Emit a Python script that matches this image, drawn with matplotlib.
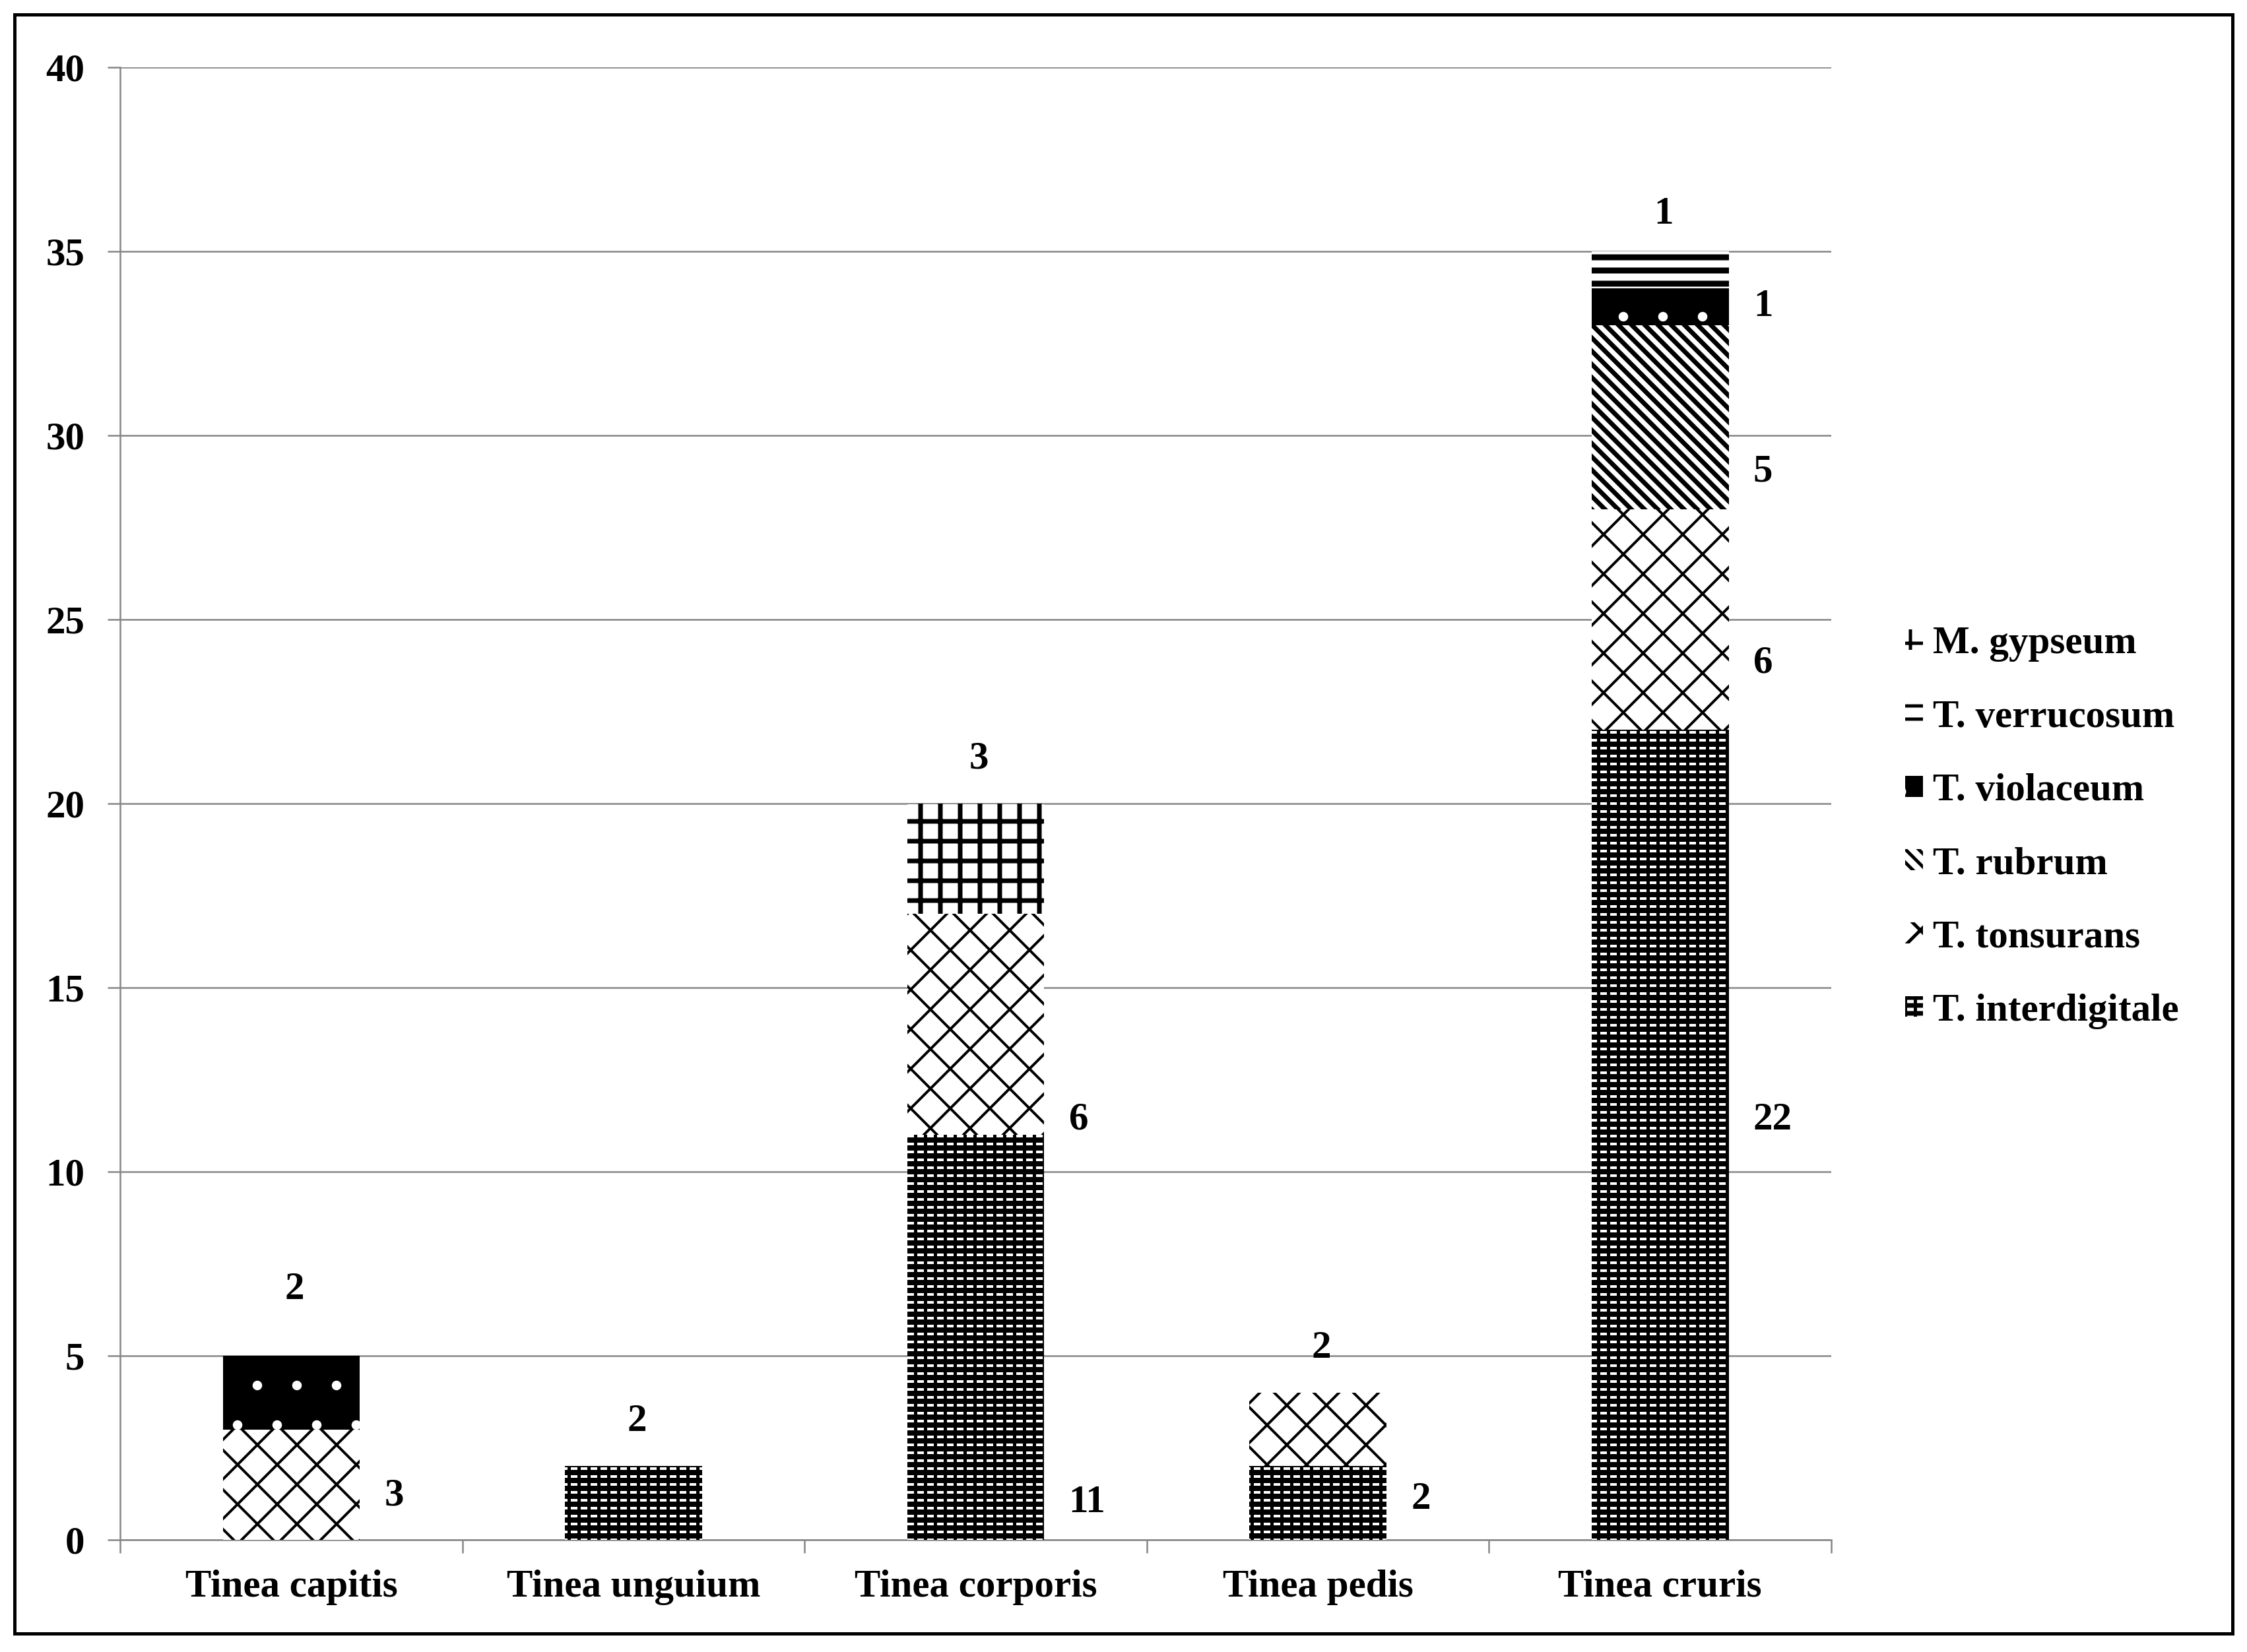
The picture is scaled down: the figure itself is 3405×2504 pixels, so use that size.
import matplotlib
matplotlib.use('Agg')
import matplotlib.pyplot as plt
import numpy as np
from matplotlib.patches import Rectangle, Patch

categories = ['Tinea capitis', 'Tinea unguium', 'Tinea corporis', 'Tinea pedis', 'Tinea cruris']
species = ['T. interdigitale', 'T. tonsurans', 'T. rubrum', 'T. violaceum', 'T. verrucosum', 'M. gypseum']
interdigitale = [0, 2, 11, 2, 22]
tonsurans = [3, 0, 6, 2, 6]
rubrum = [0, 0, 0, 0, 5]
violaceum = [2, 0, 0, 0, 1]
verrucosum = [0, 0, 0, 0, 1]
gypseum = [0, 0, 3, 0, 0]
counts = [interdigitale, tonsurans, rubrum, violaceum, verrucosum, gypseum]

# y position (data units) of each value label, as it was placed by hand in the original
label_y = {
    (0, 1): 1.2, (0, 3): 6.8,
    (1, 0): 3.2,
    (2, 0): 1.0, (2, 1): 11.4, (2, 5): 21.2,
    (3, 0): 1.1, (3, 1): 5.2,
    (4, 0): 11.4, (4, 1): 23.8, (4, 2): 29.0, (4, 3): 33.5, (4, 4): 36.0,
}

# fill patterns, one per species (same order as species)
styles = [
    dict(face='black', hatch='-----', hcolor='white', hlw=0.8),
    dict(face='white', hatch='xx', hcolor='black', hlw=0.8),
    dict(face='white', hatch='\\' * 6, hcolor='black', hlw=1.4),
    dict(face='black', hatch='.', hcolor='white', hlw=0.5),
    dict(face='white', hatch='---', hcolor='black', hlw=1.8),
    dict(face='white', hatch='++', hcolor='black', hlw=1.4),
]
# breaks the white lines of T. interdigitale into dashes
overlay = dict(face='none', hatch='||||', hcolor='black', hlw=1.0)

FONT = 'Liberation Serif'
FS = 11.8
GRAY = '#868686'
WIDTH = 0.4

plt.rcParams['font.family'] = FONT
plt.rcParams['font.weight'] = 'bold'


def set_hlw(artist, lw):
    if hasattr(artist, 'set_hatch_linewidth'):
        artist.set_hatch_linewidth(lw)


def hatched_bar(ax, x, h, bottom, st):
    with plt.rc_context({'hatch.linewidth': st['hlw']}):
        bars = ax.bar(x, h, WIDTH, bottom=bottom, color=st['face'], edgecolor=st['hcolor'],
                      hatch=st['hatch'], linewidth=0, zorder=3)
    for b in bars:
        set_hlw(b, st['hlw'])
    return bars


def legend_patch(st):
    with plt.rc_context({'hatch.linewidth': st['hlw']}):
        p = Patch(facecolor=st['face'], edgecolor=st['hcolor'], hatch=st['hatch'], linewidth=0)
    set_hlw(p, st['hlw'])
    return p


fig = plt.figure(figsize=(3405 / 360, 2504 / 360), dpi=360)
ax = fig.add_axes([0.0535, 0.0679, 0.8150 - 0.0535, 0.9593 - 0.0679])

x = np.arange(len(categories))
bottom = np.zeros(len(categories))
for i, vals in enumerate(counts):
    vals = np.array(vals, dtype=float)
    hatched_bar(ax, x, vals, bottom, styles[i])
    if i == 0:
        hatched_bar(ax, x, vals, bottom, overlay)
    bottom += vals

# value labels: top segment gets its label above the bar, the others to the right
for (c, s), y in label_y.items():
    val = counts[s][c]
    top_seg = max(k for k in range(len(counts)) if counts[k][c] > 0)
    if s == top_seg:
        ax.text(x[c] + 0.01, y, str(val), ha='center', va='center', fontsize=FS, fontweight='bold', zorder=5)
    else:
        ax.text(x[c] + WIDTH / 2 + 0.072, y, str(val), ha='left', va='center', fontsize=FS,
                fontweight='bold', zorder=5)

ax.set_xlim(-0.5, len(categories) - 0.5)
ax.set_ylim(0, 40)
ax.set_yticks(np.arange(0, 41, 5))
ax.yaxis.grid(True, color=GRAY, linewidth=0.5, zorder=0)
ax.set_axisbelow(True)

ax.set_xticks(x)
ax.set_xticklabels(categories, fontsize=FS, fontweight='bold')
ax.set_xticks(np.arange(-0.5, len(categories), 1), minor=True)
ax.tick_params(axis='x', which='major', length=0, pad=9)
ax.tick_params(axis='x', which='minor', length=4, width=0.5, color=GRAY)
ax.tick_params(axis='y', length=3.8, width=0.5, color=GRAY, pad=7, labelsize=FS)
for lab in ax.get_yticklabels():
    lab.set_fontweight('bold')

for side in ['top', 'right']:
    ax.spines[side].set_visible(False)
for side in ['left', 'bottom']:
    ax.spines[side].set_color(GRAY)
    ax.spines[side].set_linewidth(0.5)

# legend, top entry is the last series
handles = [legend_patch(st) for st in styles]
handles[0] = (handles[0], legend_patch(overlay))
order = list(range(len(species)))[::-1]
fig.legend([handles[i] for i in order], [species[i] for i in order],
           loc='center left', bbox_to_anchor=(0.848, 0.499), frameon=False,
           prop={'family': FONT, 'weight': 'bold', 'size': FS},
           handlelength=0.45, handleheight=0.45, handletextpad=0.25, labelspacing=0.97,
           borderpad=0, borderaxespad=0)

fig.patches.append(Rectangle((0.0065, 0.0112), 0.9871, 0.9800, transform=fig.transFigure,
                             fill=False, edgecolor='black', linewidth=1.0))

fig.savefig('out.png', dpi=360, facecolor='white')
